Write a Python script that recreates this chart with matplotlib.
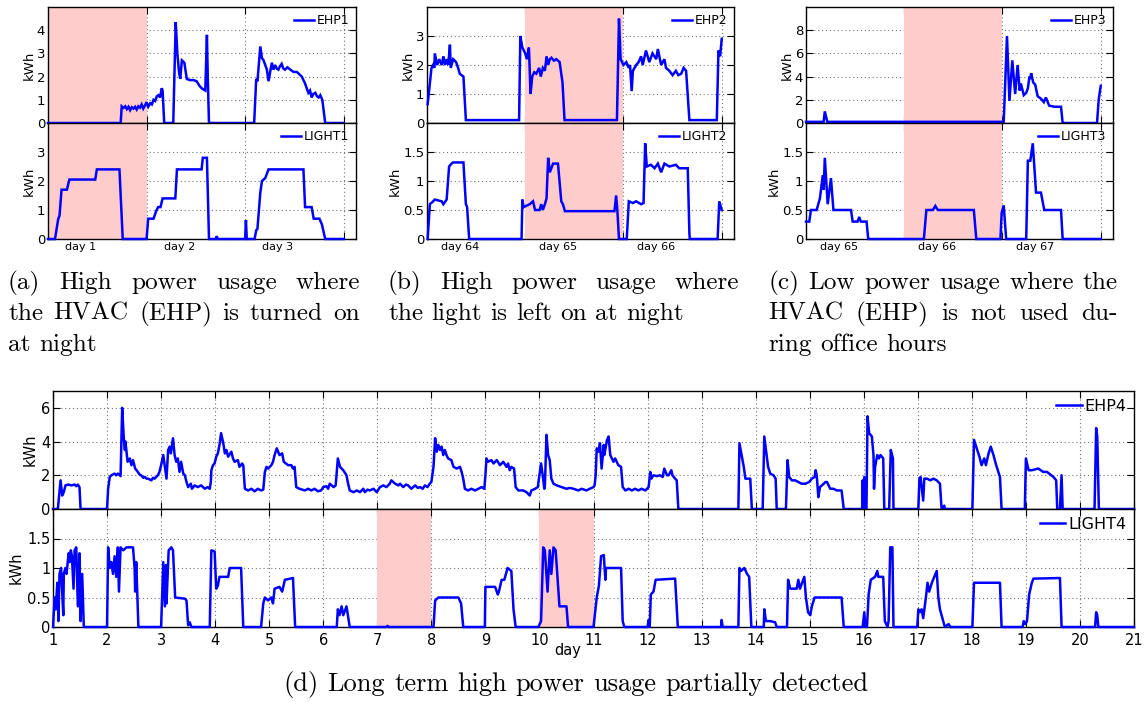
import matplotlib
matplotlib.use('Agg')
import matplotlib.pyplot as plt

# ---------------- data (hour, kWh) for the three top panels ----------------
EHP1 = [(0, 0), (17.7, 0), (17.95, 0.72), (18.4, 0.65), (18.8, 0.72), (19.2, 0.6), (19.6, 0.7), (20.0, 0.55),
        (20.4, 0.68), (20.8, 0.62), (21.2, 0.7), (21.6, 0.58), (22.0, 0.72), (22.4, 0.66), (22.8, 0.8),
        (23.2, 0.62), (23.6, 0.75), (24.0, 0.9), (24.4, 0.7), (24.9, 0.85), (25.3, 0.8), (25.7, 1.0),
        (26.1, 0.95), (26.5, 1.15), (26.9, 1.2), (27.3, 1.1), (27.7, 1.5), (27.9, 1.4), (28.3, 0), (30.5, 0),
        (31.1, 4.35), (31.5, 3.0), (31.9, 2.2), (32.2, 1.9), (32.6, 2.7), (33.2, 2.6), (33.8, 1.9), (34.5, 1.85),
        (35.4, 1.85), (36.2, 1.8), (36.9, 1.6), (37.4, 1.5), (37.8, 1.45), (38.3, 1.4), (38.7, 3.8), (38.9, 2.0),
        (39.2, 0), (50.2, 0), (50.7, 1.9), (51.0, 1.8), (51.7, 3.3), (52.1, 2.8), (52.5, 2.7), (52.9, 2.5),
        (53.3, 2.3), (53.7, 1.8), (54.1, 2.2), (54.5, 2.6), (54.9, 2.3), (55.3, 2.5), (55.7, 2.35), (56.1, 2.3),
        (56.5, 2.45), (56.9, 2.55), (57.3, 2.35), (57.7, 2.3), (58.3, 2.4), (59.0, 2.3), (59.8, 2.2),
        (60.6, 2.2), (61.2, 2.1), (61.8, 2.0), (62.2, 1.85), (62.6, 1.7), (63.0, 1.5), (63.4, 1.3), (63.8, 1.4),
        (64.2, 1.1), (64.6, 1.25), (65.1, 1.3), (65.5, 1.15), (65.9, 1.1), (66.3, 1.2), (66.8, 1.0),
        (67.5, 0), (72.0, 0)]
LIGHT1 = [(0, 0), (1.7, 0), (2.5, 0.7), (2.8, 0.8), (3.3, 1.7), (4.6, 1.7), (5.2, 2.05), (11.5, 2.05),
          (11.9, 2.4), (17.4, 2.4), (18.2, 0), (24.0, 0), (24.4, 0.7), (25.7, 0.7), (26.3, 0.95), (26.8, 1.1),
          (27.4, 1.1), (27.9, 1.4), (31.0, 1.4), (31.4, 2.4), (37.4, 2.4), (37.7, 2.8), (38.7, 2.8), (39.2, 0),
          (40.9, 0), (41.1, 0.1), (41.3, 0), (48.0, 0), (48.2, 0.65), (48.4, 0), (50.3, 0), (50.7, 0.3),
          (51.0, 0.35), (51.7, 1.6), (52.1, 2.0), (52.9, 2.1), (53.7, 2.4), (62.2, 2.4), (62.6, 1.1),
          (64.2, 1.1), (64.7, 0.7), (66.1, 0.7), (66.7, 0.5), (67.5, 0), (72.0, 0)]
EHP2 = [(0.16, 0.65), (1.1, 1.9), (1.5, 2.0), (1.8, 1.9), (1.9, 2.4), (2.5, 2.0), (3.0, 2.2), (3.6, 2.0),
        (4.0, 2.3), (4.4, 2.0), (4.8, 2.2), (5.2, 2.0), (5.6, 2.7), (5.8, 1.9), (6.4, 2.2), (7.1, 2.1),
        (7.6, 1.9), (8.0, 1.7), (8.9, 1.6), (9.5, 0.1), (22.5, 0.1), (22.8, 3.0), (23.3, 2.6), (24.0, 2.4),
        (24.4, 2.2), (24.9, 2.6), (25.3, 1.0), (25.7, 1.6), (26.2, 1.75), (26.7, 1.7), (27.4, 1.9), (27.8, 1.6),
        (28.3, 1.9), (28.8, 1.8), (29.2, 2.3), (29.6, 2.0), (30.0, 2.2), (30.4, 2.25), (31.0, 2.15), (31.6, 2.2),
        (32.4, 2.1), (33.1, 1.4), (33.6, 0.1), (46.4, 0.1), (46.9, 3.6), (47.3, 2.2), (48.0, 2.0), (48.7, 2.1),
        (49.3, 1.9), (49.6, 2.0), (50.0, 1.1), (50.3, 1.8), (51.1, 2.0), (51.7, 2.1), (52.3, 2.3), (52.7, 2.0),
        (53.5, 2.5), (54.3, 2.1), (55.1, 2.4), (56.0, 2.2), (56.4, 2.55), (57.2, 2.0), (58.0, 2.2), (58.4, 1.9),
        (59.2, 1.8), (60.0, 1.65), (60.8, 1.8), (61.4, 1.65), (62.1, 1.7), (62.7, 1.9), (63.3, 1.8),
        (64.1, 0.1), (70.8, 0.1), (71.2, 2.5), (71.6, 2.3), (72.0, 2.9)]
LIGHT2 = [(0.16, 0), (0.7, 0.6), (1.5, 0.65), (1.9, 0.68), (3.6, 0.65), (4.0, 0.6), (4.8, 0.68), (5.4, 1.25),
          (6.0, 1.3), (6.4, 1.32), (8.9, 1.32), (9.5, 0.6), (9.8, 0.55), (10.3, 0), (23.1, 0), (23.3, 0.68),
          (23.6, 0.55), (25.1, 0.6), (25.9, 0.65), (26.4, 0.5), (27.5, 0.5), (27.9, 0.6), (28.3, 0.5),
          (28.8, 0.6), (29.2, 0.7), (29.6, 1.4), (30.0, 1.15), (30.8, 1.3), (32.0, 1.3), (32.8, 0.65),
          (33.2, 0.6), (33.7, 0.48), (45.8, 0.48), (46.2, 0.75), (46.5, 0.5), (46.9, 0), (48.8, 0),
          (49.3, 0.65), (50.3, 0.62), (51.1, 0.65), (52.3, 0.6), (52.9, 0.62), (53.3, 1.65), (53.7, 1.25),
          (54.7, 1.28), (55.6, 1.22), (56.4, 1.3), (57.2, 1.15), (58.0, 1.3), (59.2, 1.25), (60.8, 1.28),
          (61.6, 1.22), (63.7, 1.22), (64.1, 0.1), (64.2, 0), (71.0, 0), (71.4, 0.65), (72.0, 0.5)]
EHP3 = [(0, 0.1), (4.3, 0.1), (4.6, 1.0), (5.2, 0.1), (48.3, 0.1), (49.1, 7.5), (49.7, 1.9), (50.4, 5.4),
        (51.1, 2.5), (51.7, 5.0), (52.2, 2.8), (52.5, 3.4), (53.2, 2.4), (53.8, 2.6), (54.2, 3.0), (54.6, 4.0),
        (54.8, 3.8), (55.0, 4.3), (55.5, 3.5), (56.0, 3.3), (56.6, 2.3), (57.4, 2.1), (58.1, 1.8), (58.6, 2.2),
        (59.4, 1.5), (60.7, 1.4), (62.3, 1.4), (62.7, 0), (71.1, 0), (71.5, 2.0), (72.0, 3.2)]
LIGHT3 = [(0, 0.3), (0.8, 0.3), (1.2, 0.5), (2.6, 0.5), (3.4, 0.7), (4.1, 1.1), (4.3, 0.85), (4.6, 1.4),
          (5.3, 0.6), (6.1, 1.05), (6.7, 0.5), (11.0, 0.5), (11.4, 0.3), (12.6, 0.3), (13.0, 0.38), (13.4, 0.3),
          (14.8, 0.3), (15.2, 0), (28.8, 0), (29.4, 0.5), (31.0, 0.5), (31.6, 0.57), (32.2, 0.5), (41.0, 0.5),
          (41.6, 0), (47.5, 0), (47.8, 0.45), (48.3, 0.58), (48.9, 0), (53.8, 0), (54.2, 1.35), (54.8, 1.35),
          (55.4, 1.65), (56.2, 0.8), (57.4, 0.8), (58.2, 0.5), (62.3, 0.5), (62.7, 0), (72.0, 0)]

# ---------------- data (day, kWh) for the long-term panel ----------------
EHP4 = [(1.0, 0), (1.09, 0), (1.14, 1.7), (1.17, 0.8), (1.2, 1.0), (1.23, 1.4), (1.28, 1.45), (1.34, 1.4),
        (1.4, 1.45), (1.43, 1.35), (1.46, 1.45), (1.49, 1.3), (1.51, 0), (2.0, 0), (2.02, 1.2), (2.05, 1.9),
        (2.08, 2.0), (2.14, 2.1), (2.17, 2.0), (2.2, 2.1), (2.25, 1.95), (2.28, 6.0), (2.31, 4.2), (2.33, 3.5),
        (2.34, 4.0), (2.38, 2.8), (2.42, 3.0), (2.45, 2.6), (2.48, 2.9), (2.52, 2.4), (2.57, 2.2), (2.6, 2.05),
        (2.63, 2.0), (2.67, 1.85), (2.7, 1.9), (2.73, 1.8), (2.76, 1.8), (2.79, 1.75), (2.82, 1.7), (2.85, 1.85),
        (2.88, 1.8), (2.94, 2.0), (2.97, 2.2), (3.0, 2.6), (3.04, 3.2), (3.07, 2.5), (3.1, 1.8), (3.13, 3.5),
        (3.16, 3.7), (3.18, 3.3), (3.22, 4.2), (3.25, 3.2), (3.28, 2.8), (3.31, 3.0), (3.34, 2.2), (3.37, 2.8),
        (3.41, 2.1), (3.44, 2.0), (3.47, 1.6), (3.5, 1.3), (3.55, 1.5), (3.57, 1.2), (3.62, 1.4), (3.68, 1.3),
        (3.74, 1.4), (3.81, 1.2), (3.86, 1.3), (3.9, 1.2), (3.92, 1.6), (3.93, 2.3), (3.96, 2.6), (3.99, 2.7),
        (4.02, 3.1), (4.05, 3.3), (4.08, 3.8), (4.11, 4.5), (4.15, 3.9), (4.18, 3.3), (4.21, 3.5), (4.24, 3.1),
        (4.3, 3.4), (4.33, 3.0), (4.36, 2.8), (4.42, 2.9), (4.45, 2.5), (4.5, 2.7), (4.52, 2.6), (4.55, 1.2),
        (4.61, 1.1), (4.67, 1.2), (4.73, 1.05), (4.79, 1.2), (4.85, 1.1), (4.89, 1.15), (4.92, 2.2),
        (4.95, 2.5), (4.98, 2.4), (5.04, 2.6), (5.07, 2.8), (5.1, 3.2), (5.14, 3.6), (5.19, 3.2), (5.24, 3.3),
        (5.27, 2.8), (5.35, 2.6), (5.41, 2.6), (5.44, 2.4), (5.47, 2.5), (5.5, 1.3), (5.56, 1.2), (5.61, 1.15),
        (5.66, 1.1), (5.72, 1.2), (5.78, 1.1), (5.84, 1.2), (5.9, 1.05), (5.96, 1.1), (6.0, 1.3), (6.06, 1.35),
        (6.09, 1.2), (6.12, 1.5), (6.19, 1.3), (6.23, 1.4), (6.27, 3.0), (6.31, 2.5), (6.37, 2.3), (6.43, 2.0),
        (6.46, 1.5), (6.49, 1.1), (6.56, 1.0), (6.62, 1.1), (6.68, 1.0), (6.74, 1.2), (6.77, 1.0), (6.82, 1.15),
        (6.86, 1.1), (6.93, 1.2), (6.99, 1.0), (7.05, 1.3), (7.11, 1.4), (7.17, 1.3), (7.23, 1.5), (7.26, 1.7),
        (7.33, 1.5), (7.39, 1.4), (7.42, 1.5), (7.48, 1.3), (7.53, 1.45), (7.57, 1.4), (7.63, 1.2), (7.7, 1.4),
        (7.75, 1.25), (7.79, 1.3), (7.84, 1.2), (7.88, 1.4), (7.93, 1.3), (7.97, 1.5), (8.0, 1.6), (8.04, 2.5),
        (8.07, 4.2), (8.1, 3.4), (8.13, 3.8), (8.16, 3.5), (8.19, 3.7), (8.22, 3.2), (8.25, 3.5), (8.28, 3.2),
        (8.31, 3.0), (8.37, 2.9), (8.41, 2.5), (8.47, 2.4), (8.53, 2.5), (8.56, 2.2), (8.59, 1.8), (8.62, 1.2),
        (8.68, 1.1), (8.74, 1.2), (8.81, 1.1), (8.87, 1.2), (8.93, 1.3), (8.98, 1.2), (9.0, 2.0), (9.02, 3.0),
        (9.05, 2.8), (9.11, 2.9), (9.15, 2.7), (9.21, 2.9), (9.27, 2.6), (9.33, 2.8), (9.39, 2.5), (9.42, 2.7),
        (9.45, 2.3), (9.48, 2.5), (9.53, 2.4), (9.56, 1.3), (9.61, 1.1), (9.7, 1.1), (9.76, 1.0), (9.82, 0.8),
        (9.85, 1.1), (9.92, 1.2), (9.97, 1.3), (9.99, 1.8), (10.03, 2.7), (10.06, 2.0), (10.09, 1.2),
        (10.1, 1.3), (10.13, 4.4), (10.16, 3.2), (10.19, 2.9), (10.22, 1.8), (10.26, 1.5), (10.32, 1.4),
        (10.41, 1.3), (10.5, 1.2), (10.56, 1.25), (10.63, 1.2), (10.72, 1.1), (10.78, 1.2), (10.87, 1.1),
        (10.93, 1.2), (11.0, 1.3), (11.02, 1.4), (11.04, 2.0), (11.06, 3.6), (11.09, 3.4), (11.12, 3.9),
        (11.15, 2.4), (11.19, 3.8), (11.2, 3.2), (11.25, 4.1), (11.28, 4.3), (11.31, 3.2), (11.34, 3.0),
        (11.37, 2.8), (11.4, 3.0), (11.46, 2.6), (11.51, 2.5), (11.54, 1.3), (11.59, 1.1), (11.65, 1.2),
        (11.71, 1.1), (11.77, 1.2), (11.83, 1.1), (11.89, 1.2), (11.96, 1.1), (11.99, 1.2), (12.02, 1.3),
        (12.05, 2.2), (12.07, 1.8), (12.11, 2.0), (12.17, 1.95), (12.23, 2.0), (12.28, 1.9), (12.31, 2.4),
        (12.36, 2.0), (12.39, 2.0), (12.44, 2.3), (12.46, 2.0), (12.51, 1.8), (12.54, 1.7), (12.57, 0),
        (13.68, 0), (13.7, 3.9), (13.78, 2.5), (13.81, 1.8), (13.9, 1.8), (13.93, 0), (14.13, 0), (14.16, 4.3),
        (14.23, 2.5), (14.27, 2.1), (14.33, 2.0), (14.37, 1.8), (14.39, 0), (14.56, 0), (14.59, 2.9),
        (14.62, 1.9), (14.67, 1.7), (14.73, 1.7), (14.79, 1.6), (14.85, 1.5), (14.92, 1.5), (14.99, 1.6),
        (15.04, 1.8), (15.09, 1.9), (15.11, 2.3), (15.13, 2.0), (15.16, 0.7), (15.19, 1.3), (15.26, 1.5),
        (15.29, 1.6), (15.32, 1.6), (15.38, 1.2), (15.44, 1.2), (15.5, 1.1), (15.59, 1.1), (15.63, 0),
        (15.97, 0), (15.98, 1.7), (15.99, 0), (16.01, 1.9), (16.03, 0), (16.05, 0), (16.07, 5.5), (16.1, 4.5),
        (16.15, 4.3), (16.18, 3.2), (16.19, 1.2), (16.21, 2.5), (16.25, 3.2), (16.28, 3.0), (16.31, 3.2),
        (16.36, 3.0), (16.38, 0), (16.47, 0), (16.5, 3.5), (16.54, 3.0), (16.55, 0), (17.01, 0), (17.03, 1.8),
        (17.05, 1.9), (17.1, 0.5), (17.12, 1.8), (17.17, 1.8), (17.23, 1.7), (17.29, 1.8), (17.35, 1.7),
        (17.41, 1.5), (17.44, 0), (17.49, 0.2), (17.5, 0), (18.01, 0), (18.04, 4.1), (18.09, 3.6), (18.14, 3.1),
        (18.18, 2.6), (18.23, 3.0), (18.26, 2.6), (18.31, 3.3), (18.35, 3.7), (18.4, 3.2), (18.45, 2.6),
        (18.49, 2.2), (18.52, 1.9), (18.55, 0), (18.98, 0), (19.0, 3.0), (19.05, 2.3), (19.11, 2.3),
        (19.23, 2.4), (19.32, 2.2), (19.39, 2.2), (19.51, 1.9), (19.56, 1.7), (19.58, 0), (19.63, 0),
        (19.66, 2.0), (19.68, 0), (20.27, 0), (20.3, 4.8), (20.32, 4.3), (20.35, 0), (21.0, 0)]
LIGHT4 = [(1.0, 0), (1.03, 0.5), (1.05, 0.3), (1.08, 0.75), (1.1, 0.1), (1.12, 0.9), (1.15, 1.0), (1.19, 0.2),
          (1.2, 0.9), (1.23, 1.0), (1.25, 0.9), (1.29, 1.25), (1.31, 1.1), (1.33, 1.3), (1.35, 1.2),
          (1.38, 0.65), (1.4, 1.3), (1.43, 1.35), (1.46, 0.35), (1.49, 1.25), (1.51, 0.1), (1.54, 0.9),
          (1.57, 0), (2.0, 0), (2.02, 1.35), (2.05, 1.0), (2.08, 1.1), (2.11, 0.9), (2.14, 1.2), (2.17, 0.85),
          (2.2, 1.35), (2.22, 0.6), (2.25, 1.35), (2.3, 1.3), (2.36, 1.35), (2.48, 1.35), (2.51, 1.0),
          (2.52, 0.6), (2.54, 1.1), (2.58, 0), (3.0, 0), (3.04, 1.1), (3.07, 0.35), (3.09, 1.05), (3.1, 0.4),
          (3.14, 1.3), (3.19, 1.35), (3.22, 1.3), (3.26, 0.5), (3.44, 0.48), (3.47, 0.45), (3.5, 0.03),
          (3.53, 0.08), (3.56, 0), (3.9, 0), (3.93, 1.3), (3.99, 1.28), (4.02, 0.65), (4.05, 0.7), (4.08, 0.85),
          (4.24, 0.85), (4.27, 1.0), (4.48, 1.0), (4.52, 0), (4.85, 0), (4.89, 0.4), (4.92, 0.5), (4.98, 0.45),
          (5.04, 0.5), (5.07, 0.4), (5.1, 0.65), (5.19, 0.68), (5.24, 0.6), (5.29, 0.8), (5.44, 0.83),
          (5.48, 0), (6.25, 0), (6.27, 0.3), (6.3, 0.2), (6.34, 0.35), (6.37, 0.2), (6.43, 0.35), (6.49, 0),
          (7.17, 0), (7.19, 0.02), (7.21, 0), (8.04, 0), (8.07, 0.45), (8.13, 0.5), (8.5, 0.5), (8.55, 0.4),
          (8.59, 0), (8.99, 0), (9.0, 0.68), (9.18, 0.68), (9.23, 0.55), (9.25, 0.6), (9.3, 0.8), (9.35, 0.8),
          (9.41, 1.0), (9.48, 0.95), (9.52, 0.3), (9.56, 0), (9.98, 0), (10.03, 0.1), (10.07, 1.35),
          (10.1, 1.3), (10.15, 0.6), (10.19, 1.3), (10.22, 0.9), (10.26, 1.35), (10.3, 1.3), (10.37, 0.35),
          (10.5, 0.35), (10.53, 0), (11.0, 0), (11.06, 0.5), (11.1, 0.7), (11.14, 1.2), (11.19, 1.22),
          (11.22, 0.8), (11.23, 1.0), (11.51, 1.0), (11.54, 0.1), (11.57, 0), (12.0, 0), (12.02, 0.12),
          (12.04, 0), (12.06, 0.55), (12.11, 0.6), (12.15, 0.8), (12.51, 0.82), (12.56, 0), (13.36, 0),
          (13.37, 0.12), (13.39, 0), (13.68, 0), (13.7, 1.0), (13.73, 0.95), (13.79, 1.0), (13.84, 0.9),
          (13.88, 0.85), (13.92, 0), (14.15, 0), (14.16, 0.3), (14.19, 0.1), (14.27, 0.1), (14.36, 0.08),
          (14.39, 0), (14.58, 0), (14.6, 0.8), (14.64, 0.65), (14.76, 0.65), (14.79, 0.8), (14.82, 0.65),
          (14.9, 0.85), (14.93, 0.5), (14.97, 0.25), (15.01, 0.2), (15.04, 0.35), (15.09, 0.5), (15.59, 0.5),
          (15.63, 0), (15.98, 0), (16.01, 0.25), (16.03, 0), (16.06, 0), (16.09, 0.55), (16.13, 0.8),
          (16.21, 0.85), (16.25, 0.95), (16.27, 0.85), (16.36, 0.85), (16.39, 0.1), (16.44, 0), (16.46, 0.1),
          (16.49, 1.35), (16.53, 1.35), (16.55, 0), (16.99, 0), (17.01, 0.3), (17.04, 0.25), (17.07, 0.3),
          (17.1, 0.15), (17.15, 0.5), (17.18, 0.75), (17.21, 0.6), (17.26, 0.75), (17.35, 0.95), (17.38, 0.5),
          (17.41, 0.3), (17.47, 0.1), (17.5, 0), (17.57, 0.05), (17.6, 0), (18.01, 0), (18.04, 0.75),
          (18.52, 0.75), (18.55, 0), (18.94, 0), (18.96, 0.1), (18.99, 0.05), (19.02, 0.1), (19.06, 0.55),
          (19.11, 0.75), (19.14, 0.82), (19.63, 0.83), (19.66, 0), (20.28, 0), (20.3, 0.25), (20.32, 0.2),
          (20.34, 0), (21.0, 0)]

# highlighted (pink) periods
PINK_A = (0, 24)
PINK_B = (24, 48)
PINK_C = (24, 48)
PINK_D = [(7, 8), (10, 11)]

DAY_LABELS_A = ['day 1', 'day 2', 'day 3']
DAY_LABELS_B = ['day 64', 'day 65', 'day 66']
DAY_LABELS_C = ['day 65', 'day 66', 'day 67']
DAYS_D = list(range(1, 22))

CAPTION_A = ['(a) High power usage where', 'the HVAC (EHP) is turned on', 'at night']
CAPTION_B = ['(b) High power usage where', 'the light is left on at night']
CAPTION_C = ['(c) Low power usage where the', 'HVAC (EHP) is not used du-', 'ring office hours']
CAPTION_D = '(d) Long term high power usage partially detected'

# ---------------- styling ----------------
BLUE = '#0000ff'
PINK = '#ffcccc'
LW = 1.8
W, H = 1148, 702

fig = plt.figure(figsize=(W / 100, H / 100), dpi=100)
fig.patch.set_facecolor('white')


def ax_px(l, t, r, b):
    return fig.add_axes([l / W, 1 - b / H, (r - l) / W, (b - t) / H])


def style(ax, fs):
    ax.grid(True, linestyle=(0, (1, 2.5)), color='0.45', lw=0.8)
    ax.set_axisbelow(True)
    ax.tick_params(which='major', direction='in', top=True, right=True, length=5,
                   width=0.8, labelsize=fs, pad=2)
    for s in ax.spines.values():
        s.set_linewidth(1.0)


def unz(pairs):
    return [p[0] for p in pairs], [p[1] for p in pairs]


def ylabels(ticks):
    return [('%g' % t) for t in ticks]


def top_panel(left, right, ehp, light, names, ylims, yticks, pink, day_labels):
    ax1 = ax_px(left, 7, right, 123)
    ax2 = ax_px(left, 123, right, 239)
    for ax, data, name, yl, yt in zip((ax1, ax2), (ehp, light), names, ylims, yticks):
        ax.axvspan(pink[0], pink[1], color=PINK, lw=0, zorder=1)
        t, v = unz(data)
        ax.plot(t, v, color=BLUE, lw=LW, label=name, zorder=3, clip_on=False,
                solid_joinstyle='miter')
        ax.set_xlim(0, 75)
        ax.set_ylim(*yl)
        ax.set_yticks(yt)
        ax.set_yticklabels(ylabels(yt))
        ax.set_xticks([24, 48, 72])
        ax.set_xticklabels([])
        style(ax, 9.5)
        ax.set_ylabel('kWh', fontsize=9.5, labelpad=1)
        ax.legend(loc='upper right', frameon=False, fontsize=9, handlelength=1.6,
                  handletextpad=0.2, borderaxespad=0.25, borderpad=0.3)
    ax2.set_xticks([8, 32, 56], minor=True)
    ax2.set_xticklabels(day_labels, minor=True, fontsize=8)
    ax2.tick_params(axis='x', which='minor', length=0, pad=2)
    ax2.tick_params(axis='y', which='minor', length=0)


top_panel(48, 356, EHP1, LIGHT1, ('EHP1', 'LIGHT1'), ((0, 5), (0, 4)),
          ([0, 1, 2, 3, 4], [0, 1, 2, 3]), PINK_A, DAY_LABELS_A)
top_panel(427, 734, EHP2, LIGHT2, ('EHP2', 'LIGHT2'), ((0, 4), (0, 2)),
          ([0, 1, 2, 3], [0, 0.5, 1, 1.5]), PINK_B, DAY_LABELS_B)
top_panel(806, 1113, EHP3, LIGHT3, ('EHP3', 'LIGHT3'), ((0, 10), (0, 2)),
          ([0, 2, 4, 6, 8], [0, 0.5, 1, 1.5]), PINK_C, DAY_LABELS_C)

# ---------------- bottom long-term panel ----------------
axe = ax_px(53, 391, 1134, 509)
axl = ax_px(53, 509, 1134, 627)
for a, b in PINK_D:
    axl.axvspan(a, b, color=PINK, lw=0, zorder=1)
for ax, data, name, yl, yt in ((axe, EHP4, 'EHP4', (0, 7), [0, 2, 4, 6]),
                               (axl, LIGHT4, 'LIGHT4', (0, 2), [0, 0.5, 1, 1.5])):
    t, v = unz(data)
    ax.plot(t, v, color=BLUE, lw=LW, label=name, zorder=3, clip_on=False)
    ax.set_xlim(DAYS_D[0], DAYS_D[-1])
    ax.set_ylim(*yl)
    ax.set_yticks(yt)
    ax.set_yticklabels(ylabels(yt))
    ax.set_xticks(DAYS_D)
    style(ax, 10.5)
    ax.set_ylabel('kWh', fontsize=10.5, labelpad=2)
    ax.legend(loc='upper right', frameon=False, fontsize=11.5, handlelength=1.6,
              handletextpad=0.15, borderaxespad=0.2, borderpad=0.3)
axe.set_xticklabels([])
axl.set_xticklabels([str(d) for d in DAYS_D])
axl.tick_params(axis='x', pad=4)
axl.set_xlabel('day', fontsize=10.5)
axl.xaxis.set_label_coords((568 - 53) / 1081, (627 - 643) / 118)

# ---------------- captions (justified, Computer Modern) ----------------
CAP_FS = 18.2
CAP_FS_D = 19.0
CAP_FONT = 'cmr10'
renderer = fig.canvas.get_renderer()


def caption_line(text, x0, x1, y, fs, justify=True, center=None):
    words = text.split(' ')
    objs = [fig.text(0, 1 - y / H, w, fontsize=fs, family=CAP_FONT, va='baseline',
                     ha='left', color='black') for w in words]
    widths = [o.get_window_extent(renderer).width for o in objs]
    if justify and len(words) > 1:
        gap = (x1 - x0 - sum(widths)) / (len(words) - 1)
    else:
        gap = 0.333 * fs * 100 / 72
    if center is not None:
        x = center - (sum(widths) + gap * (len(words) - 1)) / 2
    else:
        x = x0
    for o, w in zip(objs, widths):
        o.set_x(x / W)
        x += w + gap


for lines, x0, x1 in ((CAPTION_A, 8, 360), (CAPTION_B, 388, 739), (CAPTION_C, 768, 1118)):
    for i, line in enumerate(lines):
        caption_line(line, x0, x1, 289 + 31 * i, CAP_FS, justify=(i < len(lines) - 1))
caption_line(CAPTION_D, 0, 0, 691, CAP_FS_D, justify=False, center=576)

fig.savefig('out.png', dpi=100, facecolor='white')
